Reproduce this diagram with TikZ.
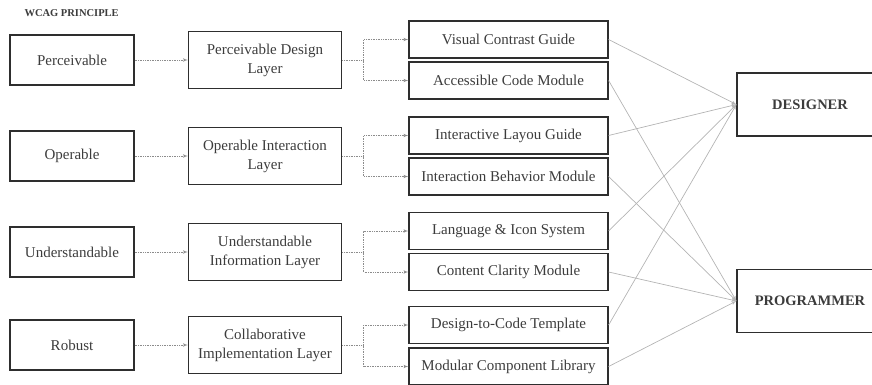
\documentclass[tikz,border=0pt]{standalone}
\usepackage{fontspec}
\setmainfont{Liberation Serif}
\usepackage{xcolor}
\usepackage{tikz}
\usetikzlibrary{arrows,shapes,positioning}
\definecolor{boxline}{HTML}{2E2E2E}
\definecolor{inkgray}{HTML}{3C3C3C}
\definecolor{wire}{HTML}{B4B4B4}
\definecolor{dotwire}{HTML}{8C8C8C}
\tikzstyle{principle} = [rectangle, draw=boxline, line width=1.2pt, text=inkgray,
    minimum width=124pt, minimum height=50pt, text centered]
\tikzstyle{layer} = [rectangle, draw=boxline, line width=1.2pt, text=inkgray,
    minimum width=153pt, minimum height=57pt, align=center, inner sep=1pt]
\tikzstyle{module} = [rectangle, draw=boxline, line width=1.2pt, text=inkgray,
    minimum width=199pt, minimum height=37pt, text centered]
\tikzstyle{role} = [rectangle, draw=boxline, line width=1.2pt, text=inkgray,
    minimum width=146pt, minimum height=63pt, text centered, font=\bfseries\fontsize{14.5}{17}\selectfont]
\tikzstyle{feed} = [draw=dotwire, densely dotted, line width=0.7pt, -latex']
\tikzstyle{line} = [draw=wire, line width=0.7pt, -latex']

\begin{document}
\begin{tikzpicture}[x=1pt, y=1pt, node distance = 193pt]
\tikzstyle{every node}=[font=\fontsize{15}{19}\selectfont]
    \useasboundingbox (0,0) rectangle (872,385);
    % Title
    \node [anchor=west, text=inkgray, font=\bfseries\fontsize{10.5}{12}\selectfont] (title) at (21,372) {WCAG PRINCIPLE};
    % Place nodes
    \node [principle] (perc) at (72,325) {Perceivable};
    \node [principle] (oper) at (72,229) {Operable};
    \node [principle] (under) at (72,133) {Understandable};
    \node [principle] (robust) at (72,40) {Robust};

    \node [layer, right of=perc] (percl) {Perceivable Design\\Layer};
    \node [layer, right of=oper] (operl) {Operable Interaction\\Layer};
    \node [layer, right of=under] (underl) {Understandable\\Information Layer};
    \node [layer, right of=robust] (robustl) {Collaborative\\Implementation Layer};

    \node [module, right of=percl, node distance=243.5pt, yshift=20.5pt] (vcg) {Visual Contrast Guide};
    \node [module, right of=percl, node distance=243.5pt, yshift=-20.5pt] (acm) {Accessible Code Module};
    \node [module, right of=operl, node distance=243.5pt, yshift=20.5pt] (ilg) {Interactive Layou Guide};
    \node [module, right of=operl, node distance=243.5pt, yshift=-20.5pt] (ibm) {Interaction Behavior Module};
    \node [module, right of=underl, node distance=243.5pt, yshift=21pt] (lis) {Language \& Icon System};
    \node [module, right of=underl, node distance=243.5pt, yshift=-20pt] (ccm) {Content Clarity Module};
    \node [module, right of=robustl, node distance=243.5pt, yshift=20pt] (dct) {Design-to-Code Template};
    \node [module, right of=robustl, node distance=243.5pt, yshift=-21.5pt] (mcl) {Modular Component Library};

    \node [role] (designer) at (810,280.5) {DESIGNER};
    \node [role] (programmer) at (810,84) {PROGRAMMER};

    % Draw edges
    \path [feed] (perc) -- (percl);
    \path [feed] (oper) -- (operl);
    \path [feed] (under) -- (underl);
    \path [feed] (robust) -- (robustl);

    \path [feed] (percl.east) -- ++(21.5,0) |- (vcg.west);
    \path [feed] (percl.east) -- ++(21.5,0) |- (acm.west);
    \path [feed] (operl.east) -- ++(21.5,0) |- (ilg.west);
    \path [feed] (operl.east) -- ++(21.5,0) |- (ibm.west);
    \path [feed] (underl.east) -- ++(21.5,0) |- (lis.west);
    \path [feed] (underl.east) -- ++(21.5,0) |- (ccm.west);
    \path [feed] (robustl.east) -- ++(21.5,0) |- (dct.west);
    \path [feed] (robustl.east) -- ++(21.5,0) |- (mcl.west);

    \path [line] (vcg.east) -- (designer.west);
    \path [line] (ilg.east) -- (designer.west);
    \path [line] (lis.east) -- (designer.west);
    \path [line] (dct.east) -- (designer.west);
    \path [line] (acm.east) -- (programmer.west);
    \path [line] (ibm.east) -- (programmer.west);
    \path [line] (ccm.east) -- (programmer.west);
    \path [line] (mcl.east) -- (programmer.west);

\end{tikzpicture}
\end{document}
